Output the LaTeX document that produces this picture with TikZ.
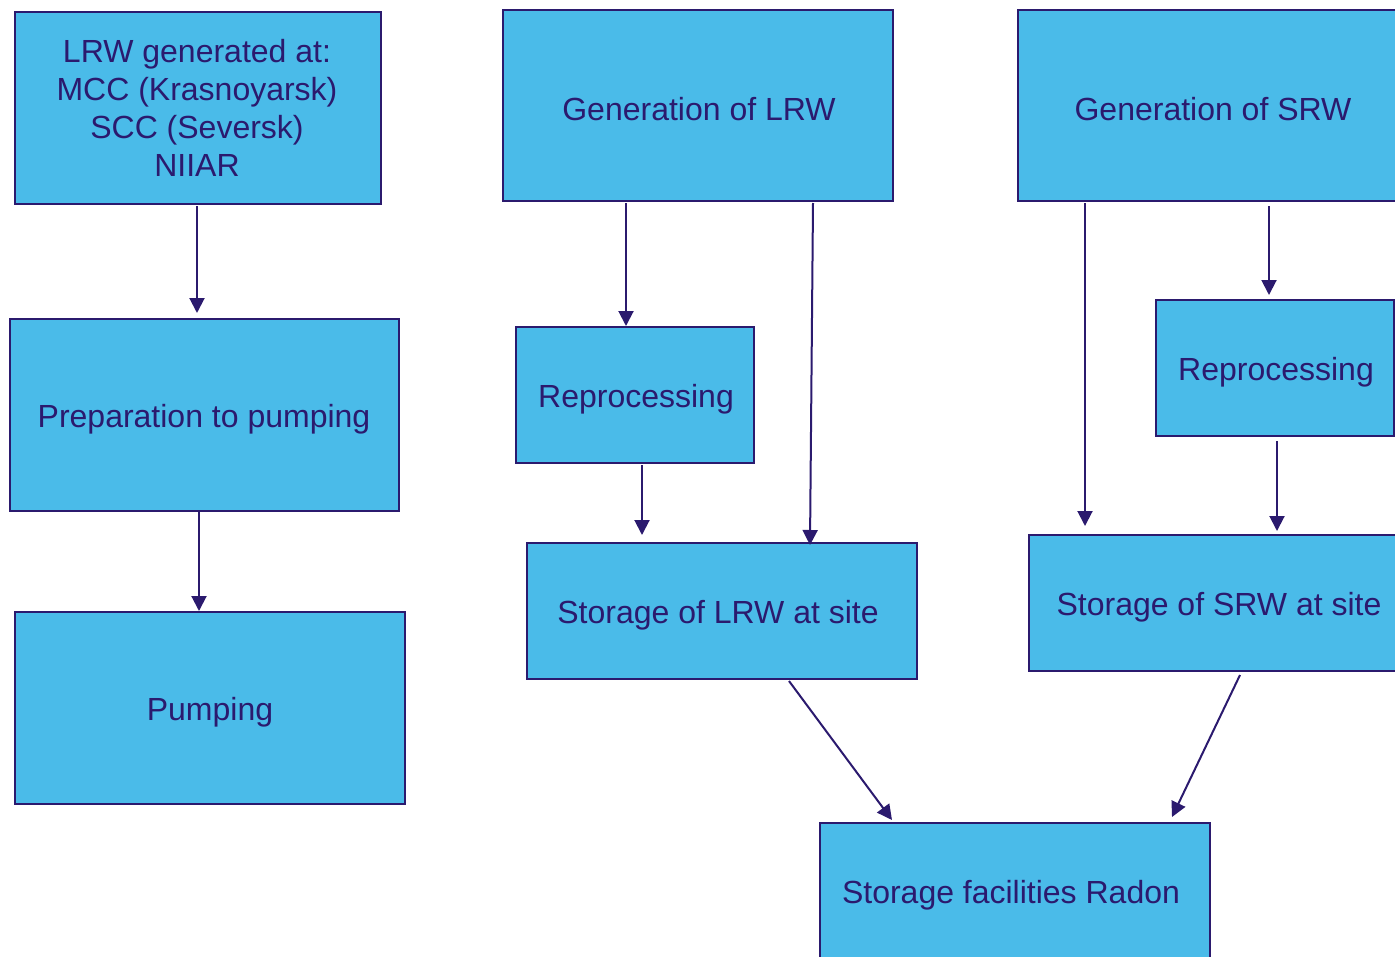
\documentclass[tikz,border=0pt]{standalone}
\usepackage{fontspec}
\setmainfont{Liberation Sans}
\usetikzlibrary{arrows.meta}
\definecolor{boxfill}{HTML}{4ABBE9}
\definecolor{ink}{HTML}{2B1A6E}
\tikzset{
  box/.style={draw=ink, fill=boxfill, line width=2pt, inner sep=0pt},
  txt/.style={text=ink, font=\fontsize{32}{38}\selectfont, align=center, inner sep=0pt, yshift=-3pt},
  arr/.style={draw=ink, line width=2pt, -{Triangle[length=15pt,width=15pt]}},
}
\begin{document}
\begin{tikzpicture}[x=1pt,y=-1pt]
\useasboundingbox (0,0) rectangle (1395,956);
\clip (0,0) rectangle (1395,956);
% boxes
\node[box, minimum width=366pt, minimum height=192pt] (lrwgen) at (198,108) {};
\node[box, minimum width=389pt, minimum height=192pt] (prep) at (204.5,415) {};
\node[box, minimum width=390pt, minimum height=192pt] (pump) at (210,708) {};
\node[box, minimum width=390pt, minimum height=191pt] (genl) at (698,105.5) {};
\node[box, minimum width=238pt, minimum height=136pt] (repl) at (635,395) {};
\node[box, minimum width=390pt, minimum height=136pt] (stl) at (722,611) {};
\node[box, minimum width=390pt, minimum height=191pt] (gens) at (1213,105.5) {};
\node[box, minimum width=238pt, minimum height=136pt] (reps) at (1275,368) {};
\node[box, minimum width=390pt, minimum height=136pt] (sts) at (1224,603) {};
\node[box, minimum width=390pt, minimum height=192pt] (radon) at (1015,919) {};
% texts
\node[txt, yshift=3pt] (t1) at (197,108) {LRW generated at:\\MCC (Krasnoyarsk)\\SCC (Seversk)\\NIIAR};
\node[txt] (t2) at (204,416) {Preparation to pumping};
\node[txt] (t3) at (210,709) {Pumping};
\node[txt] (t4) at (699,106) {Generation of LRW};
\node[txt] (t5) at (636,396) {Reprocessing};
\node[txt] (t6) at (718,612) {Storage of LRW at site};
\node[txt] (t7) at (1213,106) {Generation of SRW};
\node[txt] (t8) at (1276,369) {Reprocessing};
\node[txt] (t9) at (1219,604) {Storage of SRW at site};
\node[txt] (t10) at (1011,892) {Storage facilities Radon};
% arrow endpoints
\coordinate (a1s) at (197,206); \coordinate (a1e) at (197,313);
\coordinate (a2s) at (199,512); \coordinate (a2e) at (199,611);
\coordinate (a3s) at (626,203); \coordinate (a3e) at (626,326);
\coordinate (a4s) at (813,203); \coordinate (a4e) at (810,545);
\coordinate (a5s) at (642,465); \coordinate (a5e) at (642,535);
\coordinate (a6s) at (1085,203); \coordinate (a6e) at (1085,526);
\coordinate (a7s) at (1269,206); \coordinate (a7e) at (1269,295);
\coordinate (a8s) at (1277,441); \coordinate (a8e) at (1277,531);
\coordinate (a9s) at (789,681); \coordinate (a9e) at (892,820);
\coordinate (a10s) at (1240,675); \coordinate (a10e) at (1172,817);
\draw[arr] (a1s) -- (a1e);
\draw[arr] (a2s) -- (a2e);
\draw[arr] (a3s) -- (a3e);
\draw[arr] (a4s) -- (a4e);
\draw[arr] (a5s) -- (a5e);
\draw[arr] (a6s) -- (a6e);
\draw[arr] (a7s) -- (a7e);
\draw[arr] (a8s) -- (a8e);
\draw[arr] (a9s) -- (a9e);
\draw[arr] (a10s) -- (a10e);
\end{tikzpicture}
\end{document}
